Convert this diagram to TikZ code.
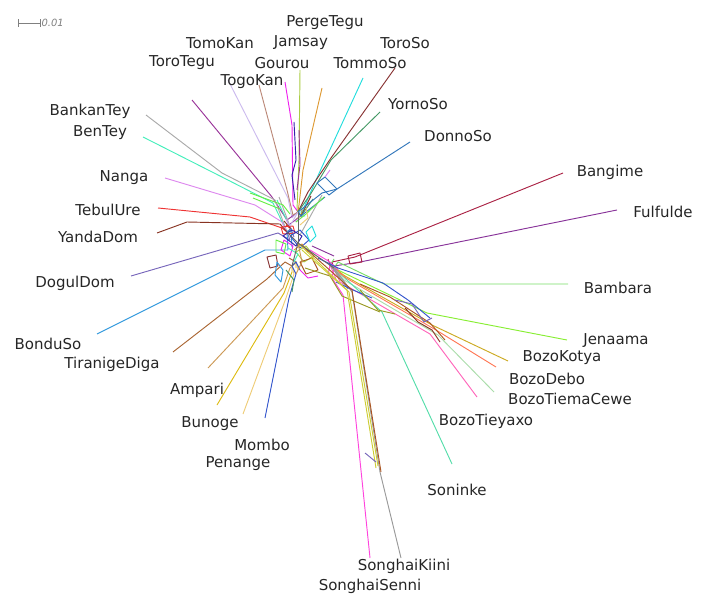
\documentclass[tikz,border=0pt]{standalone}
\usepackage{fontspec}
\setmainfont{DejaVu Sans}

% one colour per taxon
\definecolor{cToroTegu}{HTML}{993399}
\definecolor{cTomoKan}{HTML}{CCBBEE}
\definecolor{cTogoKan}{HTML}{BB8877}
\definecolor{cGourou}{HTML}{EE22EE}
\definecolor{cJamsay}{HTML}{AACC44}
\definecolor{cPergeTegu}{HTML}{DD9933}
\definecolor{cTommoSo}{HTML}{22DDDD}
\definecolor{cToroSo}{HTML}{883333}
\definecolor{cYornoSo}{HTML}{449966}
\definecolor{cDonnoSo}{HTML}{3377BB}
\definecolor{cBankanTey}{HTML}{AAAAAA}
\definecolor{cBenTey}{HTML}{44EEBB}
\definecolor{cNanga}{HTML}{DD88EE}
\definecolor{cTebulUre}{HTML}{EE3333}
\definecolor{cYandaDom}{HTML}{883322}
\definecolor{cDogulDom}{HTML}{7766BB}
\definecolor{cBonduSo}{HTML}{3399DD}
\definecolor{cTiranigeDiga}{HTML}{AA6633}
\definecolor{cAmpari}{HTML}{CC9955}
\definecolor{cBunoge}{HTML}{DDBB11}
\definecolor{cPenange}{HTML}{EECC77}
\definecolor{cMombo}{HTML}{3355CC}
\definecolor{cBangime}{HTML}{AA2244}
\definecolor{cFulfulde}{HTML}{883399}
\definecolor{cBambara}{HTML}{77DD66}
\definecolor{cJenaama}{HTML}{88EE33}
\definecolor{cBozoKotya}{HTML}{CCAA22}
\definecolor{cBozoDebo}{HTML}{FF7755}
\definecolor{cBozoTiemaCewe}{HTML}{AADDAA}
\definecolor{cBozoTieyaxo}{HTML}{FF66BB}
\definecolor{cSoninke}{HTML}{55DDAA}
\definecolor{cSonghaiSenni}{HTML}{FF44DD}
\definecolor{cSonghaiKiini}{HTML}{999999}
\definecolor{webolive}{HTML}{999922}
\definecolor{webbrown}{HTML}{AA5522}
\definecolor{webyellow}{HTML}{CCCC33}
\definecolor{weblime}{HTML}{66EE44}
\definecolor{webnavy}{HTML}{3322AA}

\begin{document}
\begin{tikzpicture}[x=0.03cm,y=-0.03cm,line width=0.8pt,line join=round]
    \tikzstyle{taxon}=[font=\fontsize{12.8}{15}\selectfont,text=black!85,inner sep=0pt]
    \tikzstyle{split}=[line width=0.8pt]
    \tikzstyle{scalebar}=[draw=gray,line width=0.6pt]
    \useasboundingbox (0,0) rectangle (702,595);

    % Scale bar
    \coordinate (sb-l) at (18,23);
    \coordinate (sb-r) at (40,23);
    \draw[scalebar] (sb-l) -- (sb-r);
    \draw[scalebar] ([yshift=-3]sb-l) -- ([yshift=3]sb-l);
    \draw[scalebar] ([yshift=-3]sb-r) -- ([yshift=3]sb-r);
    \node[font=\fontsize{8.5}{10}\selectfont\itshape,text=gray,anchor=west,inner sep=1pt] (sb) at (sb-r) {0.01};

    % Centre of the network and the hubs of the groups
    \coordinate (C) at (298,243);
    \coordinate (H-top) at (298,212);
    \coordinate (H-left) at (287,232);
    \coordinate (H-low) at (292,266);
    \coordinate (H-right) at (334,268);

    % Draw the leaf edges: name / tip / first bend / second bend
    \foreach \name/\x/\y/\ax/\ay/\bx/\by in {
        ToroTegu/192/100/272/197/287/220,
        TomoKan/228/80/288/198/292/218,
        TogoKan/259/85/287/190/293/215,
        Gourou/285/82/292/125/293/205,
        Jamsay/300/70/299/160/297/210,
        PergeTegu/322/88/303/170/299/205,
        TommoSo/363/78/316/180/302/212,
        ToroSo/395/68/331/158/308/192,
        YornoSo/380/112/331/160/310/195,
        DonnoSo/410/142/337/189/322/193,
        BankanTey/146/115/222/173/275/200,
        BenTey/143/137/220/176/273/203,
        Nanga/165/178/255/205/282/222,
        TebulUre/158/208/250/217/282/228,
        YandaDom/157/233/187/222/280/224,
        DogulDom/131/276/278/233/290/240,
        BonduSo/97/334/265/250/288/250,
        TiranigeDiga/173/352/267/279/285/262,
        Ampari/208/368/283/288/290/268,
        Bunoge/217/405/284/293/292/272,
        Penange/243/414/286/298/294/274,
        Mombo/265/418/289/298/296/274,
        Bangime/563/173/355/257/332/262,
        Fulfulde/617/210/360/262/334/266,
        Bambara/568/284/384/284/338/262,
        Jenaama/567/340/427/313/342/272,
        BozoKotya/508/361/432/325/345/276,
        BozoDebo/496/367/436/330/346/278,
        BozoTiemaCewe/494/392/438/335/344/280,
        BozoTieyaxo/477/397/430/334/340/282,
        Soninke/452/464/382/312/336/270,
        SonghaiSenni/370/558/343/295/332/278,
        SonghaiKiini/401/558/380/472/352/292}
    {
        \coordinate (L-\name) at (\x,\y);
        \coordinate (A-\name) at (\ax,\ay);
        \coordinate (B-\name) at (\bx,\by);
        \draw[split,draw=c\name] (L-\name) -- (A-\name) -- (B-\name);
    }

    % Join the bends to the hubs, twice, a little apart
    \foreach \name in {ToroTegu,TomoKan,TogoKan,Gourou,Jamsay,PergeTegu,TommoSo,ToroSo,YornoSo,DonnoSo}
        \draw[split,draw=c\name] (B-\name) -- (H-top) -- ([shift={(3,4)}]H-top) -- ([shift={(3,4)}]B-\name);
    \foreach \name in {BankanTey,BenTey,Nanga,TebulUre,YandaDom,DogulDom,BonduSo}
        \draw[split,draw=c\name] (B-\name) -- (H-left) -- ([shift={(4,-3)}]H-left) -- ([shift={(4,-3)}]B-\name);
    \foreach \name in {TiranigeDiga,Ampari,Bunoge,Penange,Mombo}
        \draw[split,draw=c\name] (B-\name) -- (H-low) -- ([shift={(4,-4)}]H-low) -- ([shift={(4,-4)}]B-\name);
    \foreach \name in {Bangime,Fulfulde,Bambara,Jenaama,BozoKotya,BozoDebo,BozoTiemaCewe,BozoTieyaxo,Soninke,SonghaiSenni,SonghaiKiini}
        \draw[split,draw=c\name] (B-\name) -- (H-right) -- ([shift={(-4,-3)}]H-right) -- ([shift={(-4,-3)}]B-\name);

    % The web of splits round the centre
    \draw[split,cDonnoSo] (317,183) -- (325,177) -- (337,189) -- (329,195) -- cycle;
    \draw[split,cNanga] (325,177) -- (330,170);
    \draw[split,cBankanTey] (322,195) -- (300,235);
    \draw[split,weblime] (324,197) -- (306,214) -- (296,222);
    \draw[split,cBangime] (348,256) -- (360,253) -- (362,262) -- (350,264) -- cycle;
    \draw[split,cTebulUre] (281,227) -- (293,226) -- (295,233) -- (283,234) -- cycle;
    \draw[split,cToroSo] (267,257) -- (276,255) -- (278,266) -- (270,268) -- cycle;
    \draw[split,weblime] (250,193) -- (283,205) -- (290,214);
    \draw[split,weblime] (253,198) -- (280,209);
    \draw[split,cMombo] (290,236) -- (300,230) -- (309,240) -- (300,248) -- cycle;
    \draw[split,cGourou] (284,240) -- (293,246) -- (290,256) -- (281,250) -- cycle;
    \draw[split,cJamsay] (296,252) -- (306,246) -- (314,256) -- (304,262) -- cycle;
    \draw[split,webbrown] (300,262) -- (312,258) -- (318,270) -- (306,274) -- cycle;
    \draw[split,cTommoSo] (306,232) -- (312,226) -- (316,236) -- (310,242) -- cycle;
    \draw[split,cBonduSo] (277,262) -- (283,270) -- (281,282) -- (275,275) -- cycle;
    \draw[split,cYornoSo] (286,270) -- (294,280) -- (292,292);
    \draw[split,cSonghaiSenni] (310,250) -- (330,262) -- (338,270);
    \draw[split,cFulfulde] (312,246) -- (334,256);
    \draw[split,webnavy] (294,122) -- (296,160) -- (292,175) -- (295,200);
    \draw[split,cToroTegu] (299,130) -- (300,165) -- (297,190);
    \draw[split,webnavy] (283,236) -- (292,230) -- (302,236) -- (296,246) -- cycle;
    \draw[split,cBenTey] (288,248) -- (298,254) -- (294,262);
    \draw[split,cPergeTegu] (294,250) -- (302,244) -- (308,252);
    \draw[split,weblime] (276,240) -- (286,244) -- (284,254) -- (276,252) -- cycle;
    \draw[split,cGourou] (300,270) -- (308,278) -- (318,276);
    \draw[split,webolive] (305,268) -- (330,276) -- (342,296) -- (380,312);
    \draw[split,cMombo] (318,258) -- (338,268) -- (383,283) -- (408,300) -- (430,318);
    \draw[split,cMombo] (336,282) -- (353,290) -- (372,298);
    \draw[split,webbrown] (360,284) -- (390,297) -- (430,323) -- (445,340);
    \draw[split,cYandaDom] (405,308) -- (418,322) -- (432,330) -- (440,342);
    \draw[split,cDogulDom] (395,300) -- (412,304) -- (424,322) -- (432,318);
    \draw[split,webolive] (360,290) -- (378,310) -- (395,314);
    \draw[split,cPenange] (300,225) -- (308,218) -- (306,208);
    \draw[split,cTomoKan] (290,226) -- (298,212);
    \draw[split,cAmpari] (296,274) -- (302,262) -- (298,243);

    % Songhai bundle
    \draw[split,webyellow] (298,243) -- (347,290) -- (376,468);
    \draw[split,webbrown] (305,248) -- (352,290) -- (381,472);
    \draw[split,webyellow] (302,250) -- (349,292) -- (378,466);
    \draw[split,cDogulDom] (365,453) -- (376,462);

    % Centre links
    \foreach \hub in {H-top,H-left,H-low,H-right}
        \draw[split,black!60] (\hub) -- (C);

    % Annotate the taxa
    \foreach \name/\x/\y in {
        PergeTegu/325/23, Jamsay/301/43, TomoKan/220/43, ToroSo/405/43,
        ToroTegu/182/63, Gourou/282/63, TommoSo/370/63, TogoKan/252/82,
        YornoSo/418/104, DonnoSo/458/136, BankanTey/90/111, BenTey/100/133,
        Nanga/124/178, TebulUre/108/210, YandaDom/98/237, DogulDom/75/283,
        BonduSo/48/344, TiranigeDiga/112/364, Ampari/197/390, Bunoge/210/424,
        Mombo/262/445, Penange/238/464, Bangime/610/172, Fulfulde/663/212,
        Bambara/618/288, Jenaama/616/341, BozoKotya/562/358, BozoDebo/547/379,
        BozoTiemaCewe/570/399, BozoTieyaxo/486/421, Soninke/457/490,
        SonghaiKiini/404/566, SonghaiSenni/370/586}
        \node[taxon] (N-\name) at (\x,\y) {\name};
\end{tikzpicture}
\end{document}
